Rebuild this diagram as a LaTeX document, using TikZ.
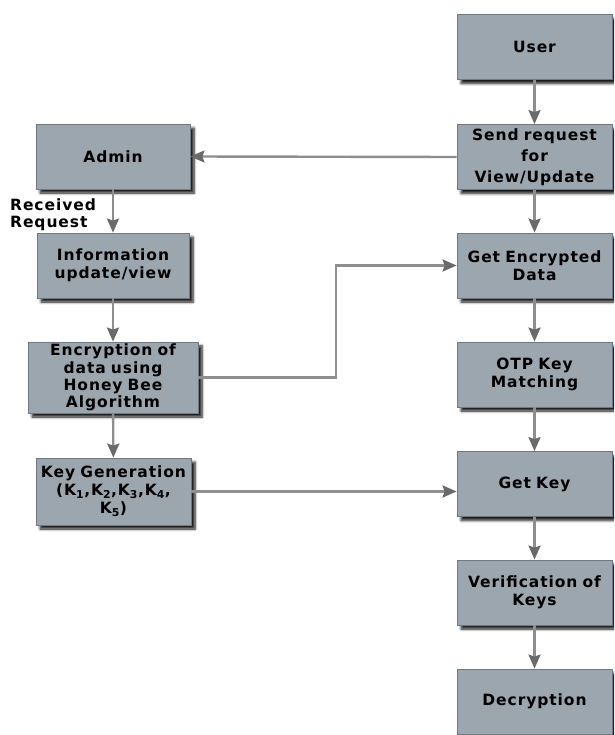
\documentclass[tikz,border=0pt]{standalone}
\usepackage{fontspec}
\newfontfamily\boxfont[LetterSpace=6]{DejaVu Sans}
\usetikzlibrary{arrows.meta,shadows.blur}
\definecolor{boxfill}{HTML}{9BA6AF}
\definecolor{boxline}{HTML}{6F7880}
\definecolor{arrline}{HTML}{8E8E8E}
\definecolor{arrhead}{HTML}{6A6A6A}
\begin{document}
\begin{tikzpicture}[x=1pt,y=-1pt,
  flowbox/.style={draw=boxline, line width=0.8pt, fill=boxfill, align=center,
    inner sep=2pt, font=\boxfont\bfseries\fontsize{15.5}{18}\selectfont,
    blur shadow={shadow xshift=4pt, shadow yshift=-4pt, shadow blur steps=6,
      shadow blur radius=2.5pt, shadow opacity=90}},
  rbox/.style={flowbox, minimum width=155pt, minimum height=65pt, text width=150pt},
  conn/.style={draw=arrline, line width=2.4pt,
    -{Stealth[length=14pt,width=12pt,inset=2pt,fill=arrhead,color=arrhead]}},
  lbl/.style={align=left, inner sep=0pt, font=\boxfont\bfseries\fontsize{15.5}{16.5}\selectfont}
]
\useasboundingbox (0,0) rectangle (614,735);
\begin{scope}
\clip (0,0) rectangle (614,735);
% right column
\node[rbox] (user) at (534.5,47) {User};
\node[rbox, font=\boxfont\bfseries\fontsize{15.5}{21}\selectfont] (send) at (534.5,157) {Send request\\for\\View/Update};
\node[rbox] (genc) at (534.5,265.5) {Get Encrypted\\Data};
\node[rbox] (otp) at (534.5,374.5) {OTP Key\\Matching};
\node[rbox] (gkey) at (534.5,484) {Get Key};
\node[rbox] (verif) at (534.5,592.5) {Verification of\\Keys};
\node[rbox] (decr) at (534.5,701.5) {Decryption};
% left column
\node[flowbox, minimum width=154pt, minimum height=65pt, text width=150pt] (admin) at (113,156.5) {Admin};
\node[flowbox, minimum width=152pt, minimum height=65pt, text width=148pt] (info) at (113,265.5) {Information\\update/view};
\node[flowbox, minimum width=170pt, minimum height=71pt, text width=166pt, font=\boxfont\bfseries\fontsize{15.5}{17.3}\selectfont] (enc) at (113,377.5) {Encryption of\\data using\\Honey Bee\\Algorithm};
\node[flowbox, minimum width=155pt, minimum height=67pt, text width=151pt] (kgen) at (113.5,491.5) {Key Generation\\(K\textsubscript{1},K\textsubscript{2},K\textsubscript{3},K\textsubscript{4},\\K\textsubscript{5})};
\node[lbl, anchor=north west] (recv) at (10,199) {Received\\Request};
% connectors
\draw[conn] (user) -- (send);
\draw[conn] (send) -- (genc);
\draw[conn] (genc) -- (otp);
\draw[conn] (otp) -- (gkey);
\draw[conn] (gkey) -- (verif);
\draw[conn] (verif) -- (decr);
\draw[conn] (send.west) -- (admin.east);
\draw[conn] (admin) -- (info);
\draw[conn] (info) -- (enc);
\draw[conn] (enc) -- (kgen);
\draw[conn] (enc.east) -- (336,377.5) -- (336,265.5) -- (genc.west);
\draw[conn] (kgen.east) -- (kgen.east -| gkey.west);
\end{scope}
\end{tikzpicture}
\end{document}
